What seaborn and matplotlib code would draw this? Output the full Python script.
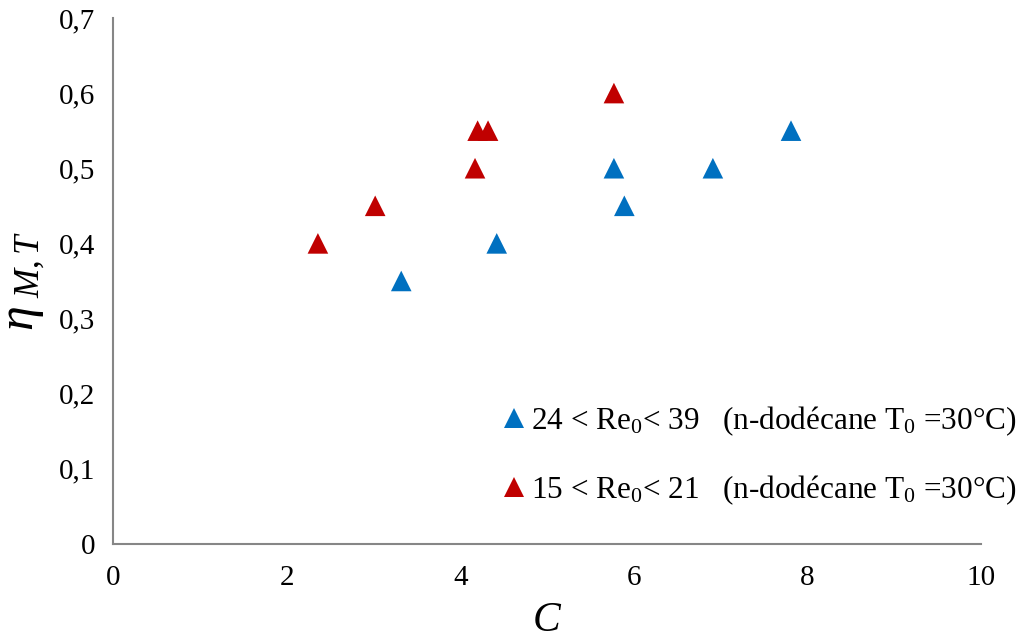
import pandas as pd
import matplotlib
matplotlib.use("Agg")
import matplotlib.pyplot as plt
import seaborn as sns
from matplotlib.ticker import FuncFormatter

# Données
c_haut = [3.32, 4.42, 5.77, 5.89, 6.91, 7.81]
eta_haut = [0.35, 0.40, 0.50, 0.45, 0.50, 0.55]
c_bas = [2.36, 3.02, 4.17, 4.20, 4.32, 5.77]
eta_bas = [0.40, 0.45, 0.50, 0.55, 0.55, 0.60]

lab_haut = "24 < Re$_0$< 39   (n-dodécane T$_0$ =30°C)"
lab_bas = "15 < Re$_0$< 21   (n-dodécane T$_0$ =30°C)"

df = pd.concat([
    pd.DataFrame({"C": c_haut, "eta": eta_haut, "serie": lab_haut}),
    pd.DataFrame({"C": c_bas, "eta": eta_bas, "serie": lab_bas}),
])

sns.set_style("white")
plt.rcParams["font.family"] = ["Liberation Serif", "DejaVu Serif"]
plt.rcParams["mathtext.fontset"] = "custom"
plt.rcParams["mathtext.rm"] = "Liberation Serif"
plt.rcParams["mathtext.it"] = "Liberation Serif:italic"
plt.rcParams["text.color"] = "black"
plt.rcParams["axes.labelcolor"] = "black"

fig = plt.figure(figsize=(10.22, 6.4), dpi=100)
ax = fig.add_axes([0.1106, 0.15, 0.8494, 0.822])

sns.scatterplot(data=df, x="C", y="eta", hue="serie", marker="^", s=220,
                palette={lab_haut: "#0070C0", lab_bas: "#C00000"},
                edgecolor="none", ax=ax)

ax.set_xlim(0, 10)
ax.set_ylim(0, 0.7)
ax.set_xticks(range(0, 11, 2))
ax.set_yticks([0, 0.1, 0.2, 0.3, 0.4, 0.5, 0.6, 0.7])
ax.yaxis.set_major_formatter(FuncFormatter(lambda v, p: "0" if v == 0 else f"{v:.1f}".replace(".", ",")))

for s in ["top", "right"]:
    ax.spines[s].set_visible(False)
for s in ["left", "bottom"]:
    ax.spines[s].set_color("#868686")
    ax.spines[s].set_linewidth(1.5)
ax.tick_params(axis="both", direction="out", length=7, width=1.3, color="#868686",
               labelsize=21, labelcolor="black")
ax.tick_params(axis="x", pad=8)
ax.tick_params(axis="y", pad=6)

ax.set_xlabel("$C$", fontsize=30, labelpad=8)
ax.set_ylabel("$\\eta_{\\ M,T}$", fontsize=36, labelpad=8)

leg = ax.legend(loc="lower right", bbox_to_anchor=(1.041, 0.07), frameon=False,
                fontsize=22.5, labelspacing=1.15, handletextpad=0.05,
                handlelength=1.0, borderpad=0, borderaxespad=0)

fig.savefig("out.png", dpi=100)
